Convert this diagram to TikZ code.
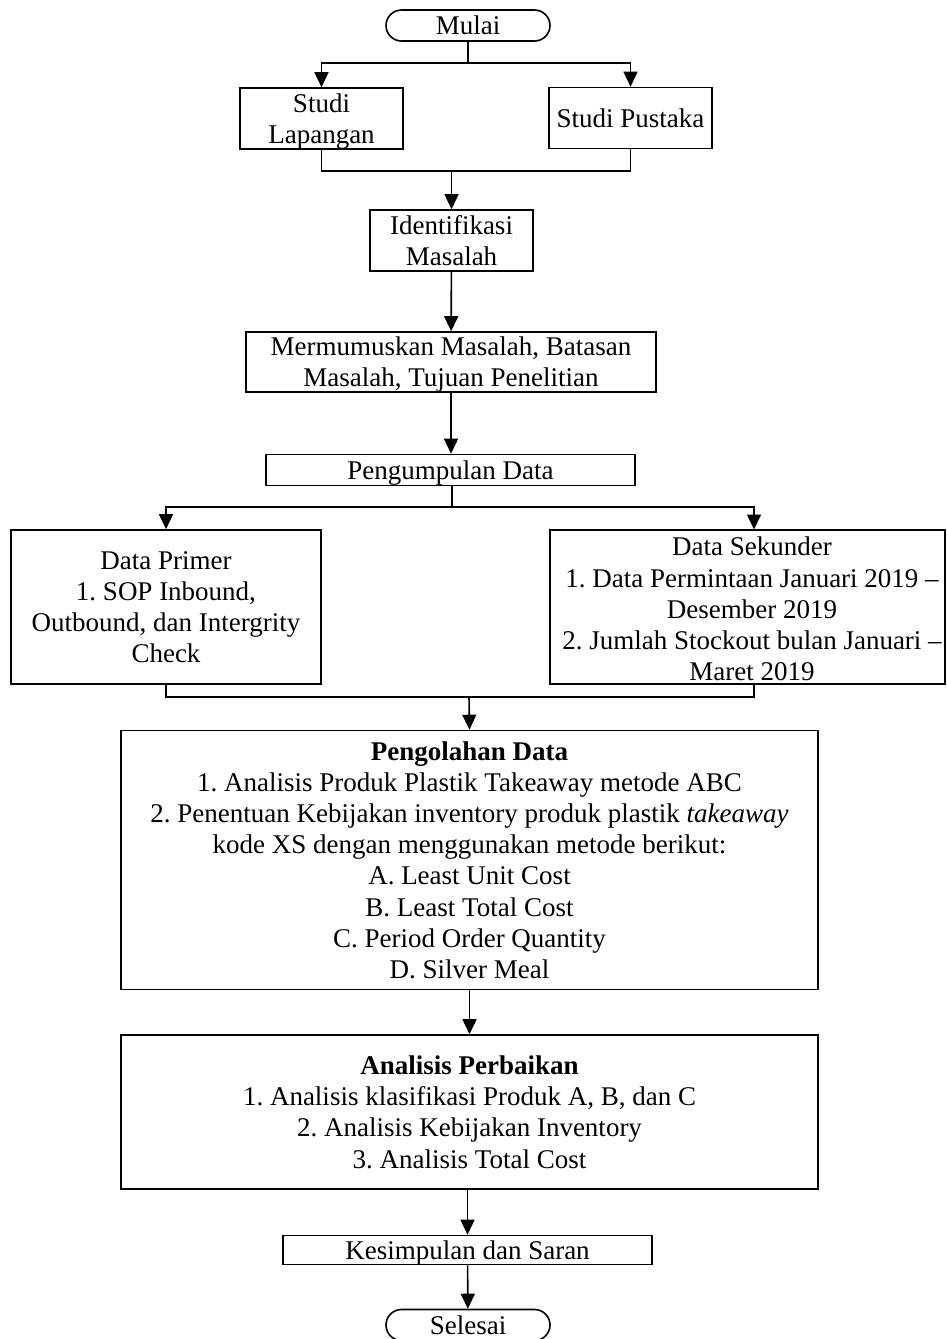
\documentclass[tikz,border=0pt]{standalone}
\usepackage{fontspec}
\setmainfont{Liberation Serif}
\usetikzlibrary{arrows.meta,calc}
\frenchspacing
\begin{document}
\begin{tikzpicture}[x=1pt,y=-1pt,
  line width=1.6pt,
  every node/.style={font=\fontsize{27}{31.2}\selectfont},
  box/.style={draw,rectangle,inner sep=0pt,align=center,text depth=0pt,line width=1.6pt},
  term/.style={draw,rectangle,rounded corners=15.5pt,inner sep=0pt,minimum width=164pt,minimum height=31pt,line width=1.6pt},
  arr/.style={-{Triangle[length=15pt,width=14pt]}}]
\useasboundingbox (0,0) rectangle (947,1339);

% terminators and process boxes
\node[term] (mulai) at (468,25.5) {Mulai};
\node[box,minimum width=163pt,minimum height=61pt] (lap) at (321.5,118.5) {Studi\\Lapangan};
\node[box,minimum width=163pt,minimum height=61pt] (pus) at (630.5,118) {Studi Pustaka};
\node[box,minimum width=163pt,minimum height=61pt] (iden) at (451.5,240.5) {Identifikasi\\Masalah};
\node[box,minimum width=410pt,minimum height=60pt] (rumus) at (451,362) {Mermumuskan Masalah, Batasan\\Masalah, Tujuan Penelitian};
\node[box,minimum width=369pt,minimum height=31pt] (kumpul) at (450.5,470) {Pengumpulan Data};
\node[box,minimum width=310pt,minimum height=154pt] (primer) at (166,607) {Data Primer\\1. SOP Inbound,\\Outbound, dan Intergrity\\Check};
\node[box,minimum width=395pt,minimum height=154pt] (sekunder) at (747.5,607) {};
\node (sektext) at (752,609) [align=center,text depth=0pt] {Data Sekunder\\1. Data Permintaan Januari 2019 –\\Desember 2019\\2. Jumlah Stockout bulan Januari –\\Maret 2019};
\node[box,minimum width=697pt,minimum height=259pt] (olah) at (469.5,860) {\textbf{Pengolahan Data}\\1. Analisis Produk Plastik Takeaway metode ABC\\2. Penentuan Kebijakan inventory produk plastik \textit{takeaway}\\kode XS dengan menggunakan metode berikut:\\A. Least Unit Cost\\B. Least Total Cost\\C. Period Order Quantity\\D. Silver Meal};
\node[box,minimum width=697pt,minimum height=154pt] (perbaikan) at (469.5,1112) {\textbf{Analisis Perbaikan}\\1. Analisis klasifikasi Produk A, B, dan C\\2. Analisis Kebijakan Inventory\\3. Analisis Total Cost};
\node[box,minimum width=369pt,minimum height=29pt] (simpul) at (467.5,1250) {Kesimpulan dan Saran};
\node[term] (selesai) at (468,1325) {Selesai};

% branch and junction points
\coordinate (s1) at (468,63);
\coordinate (j1) at (451.5,171);
\coordinate (s2) at (452,507);
\coordinate (sekin) at (754,529.5);
\coordinate (j2) at (469,697);

% connectors
\draw (mulai) -- (s1);
\draw[arr] (s1) -| (lap.north);
\draw[arr] (s1) -| (pus.north);
\draw (lap.south) |- (j1);
\draw (pus.south) |- (j1);
\draw[arr] (j1) -- (iden.north);
\draw[arr] (iden) -- (rumus);
\draw[arr] (rumus.south) -- (rumus.south |- kumpul.north);
\draw (kumpul.south -| s2) -- (s2);
\draw[arr] (s2) -| (primer.north);
\draw[arr] (s2) -| (sekin);
\draw (primer.south) |- (j2);
\draw (sekin |- sekunder.south) |- (j2);
\draw[arr] (j2) -- (olah.north);
\draw[arr] (olah) -- (perbaikan);
\draw[arr] (perbaikan.south -| simpul.north) -- (simpul.north);
\draw[arr] (simpul) -- (selesai);
\end{tikzpicture}
\end{document}
